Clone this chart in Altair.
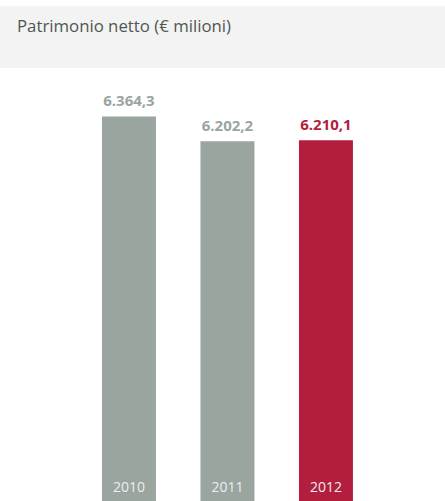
import altair as alt
import pandas as pd

years = ["2010", "2011", "2012"]
values = [6364.3, 6202.2, 6210.1]
highlight = [False, False, True]
title_text = "Patrimonio netto (€ milioni)"

GRAY = "#9aa59f"
RED = "#b31e3e"
DMIN, DMAX = 3862, 7122
W, H = 445, 501

df = pd.DataFrame({"year": years, "value": values, "hl": highlight})

base = alt.Chart(df).transform_calculate(
    label="replace(replace(replace(format(datum.value, ',.1f'), ',', '#'), '.', ','), '#', '.')"
)

xenc = alt.X("year:N", axis=None,
             scale=alt.Scale(range=[79.7, 375.2], paddingInner=0.452, paddingOuter=0.226))
yscale = alt.Scale(domain=[DMIN, DMAX], zero=False, nice=False)
color = alt.Color("hl:N", scale=alt.Scale(domain=[False, True], range=[GRAY, RED]), legend=None)

header = alt.Chart(alt.Data(values=[{}])).mark_rect(color="#f2f3f2").encode(
    x=alt.value(0), x2=alt.value(W), y=alt.value(6), y2=alt.value(68)
)
title = alt.Chart(alt.Data(values=[{}])).mark_text(
    align="left", baseline="alphabetic", font="Open Sans", fontSize=16.8, color="#4f5752"
).encode(x=alt.value(17), y=alt.value(32), text=alt.value(title_text))

bars = base.mark_bar().encode(
    x=xenc,
    y=alt.Y("value:Q", scale=yscale, axis=None),
    y2=alt.datum(DMIN),
    color=color,
)
vlabels = base.mark_text(
    baseline="alphabetic", dy=-10, font="Open Sans", fontSize=15, fontWeight="bold"
).encode(
    x=xenc,
    y=alt.Y("value:Q", scale=yscale, axis=None),
    text="label:N",
    color=color,
)
ylabels = base.mark_text(
    baseline="alphabetic", dy=-9, font="Open Sans", fontSize=14, color="#eeeeee"
).encode(
    x=xenc,
    y=alt.datum(DMIN),
    text="year:N",
)

chart = alt.layer(header, title, bars, vlabels, ylabels).properties(
    width=W, height=H, padding=0, autosize=alt.AutoSizeParams(type="none"),
    background="white",
).configure_view(stroke=None)

chart.save("out.html", embed_options={"renderer": "svg", "actions": False})
